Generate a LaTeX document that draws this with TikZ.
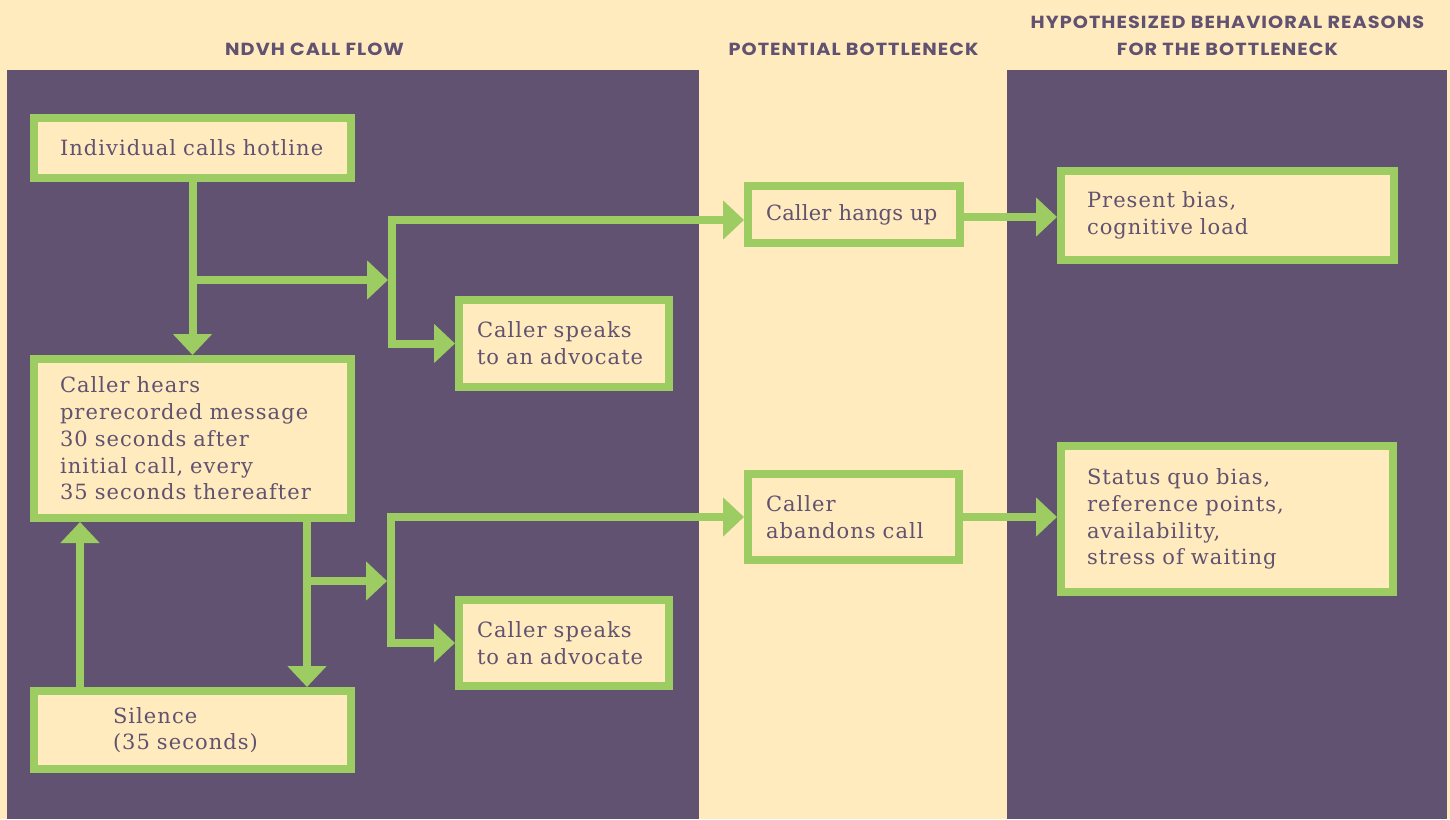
\documentclass[tikz,border=0pt]{standalone}
\usepackage{fontspec}
\usetikzlibrary{arrows.meta}
\setmainfont{DejaVu Serif}[LetterSpace=5]
\newfontfamily\headfont{Poppins}[LetterSpace=6,FakeStretch=1.1]
\definecolor{cream}{HTML}{FFEBBE}
\definecolor{plum}{HTML}{605270}
\definecolor{leaf}{HTML}{9DCC62}

\begin{document}
\begin{tikzpicture}
  [x=1pt, y=-1pt,
   box/.style={draw=leaf, line width=8pt, fill=cream, text=plum, inner sep=0pt,
               align=left, font=\fontsize{21}{26.7}\selectfont},
   head/.style={text=plum, inner sep=0pt, anchor=base,
                font=\headfont\bfseries\fontsize{17.5}{20}\selectfont},
   arr/.style={draw=leaf, line width=8pt, -{Triangle[length=21pt,width=38pt]}}]

  \useasboundingbox (0,0) rectangle (1450,819);
  \fill[cream] (0,0) rectangle (1450,819);
  \fill[plum] (7,70) rectangle (699,819);
  \fill[plum] (1007,70) rectangle (1447,819);

  % column heads
  \node[head] (flowhead) at (314.5,55) {NDVH CALL FLOW};
  \node[head] (neckhead) at (853.5,55) {POTENTIAL BOTTLENECK};
  \node[head] (whyhead) at (1227.5,28) {HYPOTHESIZED BEHAVIORAL REASONS};
  \node[head] (whyhead2) at (1227.5,55) {FOR THE BOTTLENECK};

  % call flow
  \node[box, minimum width=317pt, minimum height=60pt, text width=265pt] (call) at (192.5,148)
    {Individual calls hotline};
  \node[box, minimum width=317pt, minimum height=159pt, text width=265pt] (hears) at (192.5,438.5)
    {Caller hears\\prerecorded message\\30 seconds after\\initial call, every\\35 seconds thereafter};
  \node[box, minimum width=317pt, minimum height=78pt, text width=159pt] (silence) at (192.5,730)
    {Silence\\(35 seconds)};
  \node[box, minimum width=210pt, minimum height=87pt, text width=174pt] (speak1) at (564,343.5)
    {Caller speaks\\to an advocate};
  \node[box, minimum width=210pt, minimum height=86pt, text width=174pt] (speak2) at (564,643)
    {Caller speaks\\to an advocate};

  % bottlenecks
  \node[box, minimum width=212pt, minimum height=57pt, text width=176pt,
        font=\fontsize{21}{26.7}\selectfont\addfontfeatures{LetterSpace=1}] (hang) at (854,214.5)
    {\mbox{Caller hangs up}};
  \node[box, minimum width=211pt, minimum height=86pt, text width=175pt] (abandon) at (853.5,517)
    {Caller\\abandons call};

  % reasons
  \node[box, minimum width=333pt, minimum height=89pt, text width=281pt] (present) at (1227.5,215.5)
    {Present bias,\\cognitive load};
  \node[box, minimum width=332pt, minimum height=146pt, text width=280pt] (status) at (1227,519)
    {Status quo bias,\\reference points,\\availability,\\stress of waiting};

  \coordinate (fork1) at (192.5,280);
  \coordinate (bar1) at (392,280);
  \coordinate (fork2) at (307,581);
  \coordinate (bar2) at (391,581);
  \coordinate (loop) at (80,600);

  \draw[arr] (call) -- (hears);
  \draw[arr, shorten >=4pt] (fork1) -- (bar1);
  \draw[arr] (bar1) |- ([yshift=-5.5pt]hang.west);
  \draw[arr] (bar1) |- (speak1.west);
  \draw[arr] ([yshift=-2.5pt]hang.east) -- ([yshift=-2.5pt]hang.east -| present.west);

  \draw[arr] (fork2 |- hears.south) -- (fork2 |- silence.north);
  \draw[arr, shorten >=4pt] (fork2) -- (bar2);
  \draw[arr] (bar2) |- (abandon.west);
  \draw[arr] (bar2) |- (speak2.west);
  \draw[arr] (abandon.east) -- (abandon.east -| status.west);
  \draw[arr] (loop |- silence.north) -- (loop |- hears.south);
\end{tikzpicture}
\end{document}
